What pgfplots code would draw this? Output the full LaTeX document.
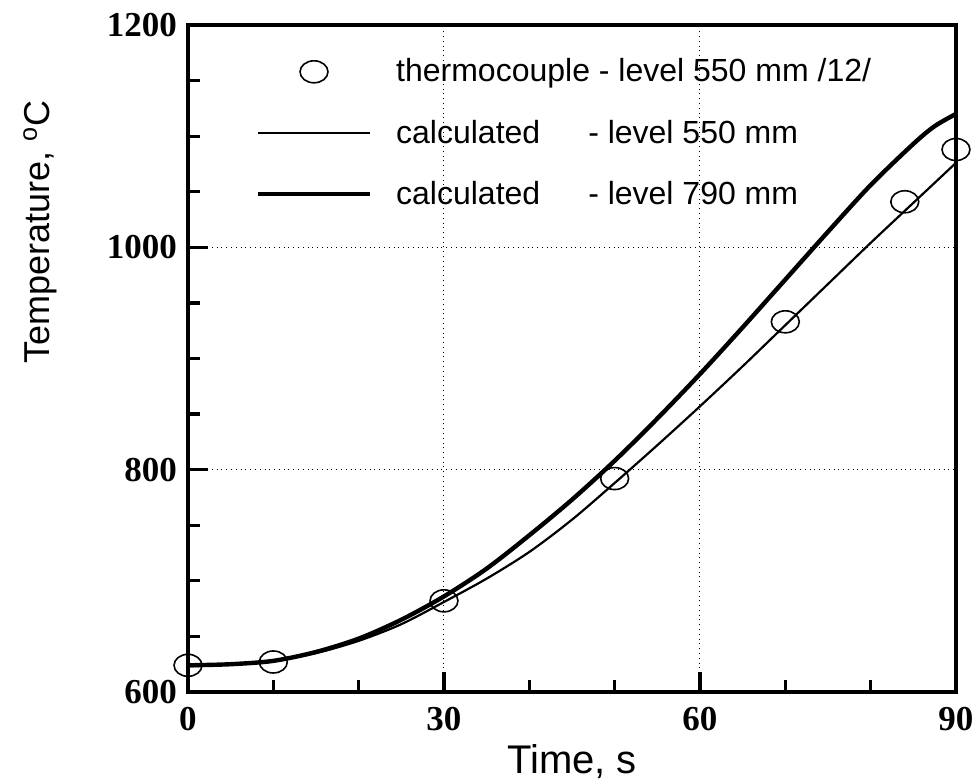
\documentclass[border=0pt]{standalone}
\usepackage{fontspec}
\setmainfont{Liberation Serif}
\newfontfamily\arial{Liberation Sans}
\usepackage{pgfplots}
\pgfplotsset{compat=1.18}
\begin{document}
\begin{tikzpicture}
\begin{axis}[
  name=ax,
  at={(0,0)}, anchor=south west,
  scale only axis,
  width=384bp, height=333.5bp,
  xmin=0, xmax=90, ymin=600, ymax=1200,
  xtick={0,30,60,90}, ytick={600,800,1000,1200},
  minor xtick={10,20,40,50,70,80},
  minor ytick={650,700,750,850,900,950,1050,1100,1150},
  xtick pos=bottom, ytick pos=left,
  tick align=inside,
  major tick length=10bp, minor tick length=6bp,
  tick style={line width=1.6bp, black},
  axis line style={line width=1.6bp},
  grid=major,
  major grid style={dotted, black, line width=0.5bp},
  /pgf/number format/assume math mode=true,
  /pgf/number format/set thousands separator={},
  ticklabel style={font=\fontsize{17.5bp}{20bp}\selectfont\bfseries},
  xticklabel style={yshift=-4bp},
  yticklabel style={xshift=-2bp},
  xlabel={Time, s},
  ylabel={Temperature, \textsuperscript{o}C},
  xlabel style={font=\arial\fontsize{20bp}{24bp}\selectfont, at={(axis description cs:0.5,0)}, anchor=center, yshift=-35bp},
  ylabel style={font=\arial\fontsize{18bp}{22bp}\selectfont, at={(axis description cs:-0.1927,0.69)}, anchor=center},
  legend image code/.code={\draw[mark repeat=2,mark phase=2,#1] plot coordinates {(0bp,0bp) (28bp,0bp) (56bp,0bp)};},
  legend style={draw=none, fill=none, at={(0.08,0.962)}, anchor=north west,
    font=\arial\fontsize{16bp}{19bp}\selectfont, row sep=13.5bp},
  legend cell align=left,
]
\addplot[only marks, mark=o, mark size=5.5bp, mark options={xscale=1.27, line width=0.8bp}] coordinates {
(0,624) (10,627) (30,682) (50,792) (70,933) (84,1041) (90,1088)
};
\addlegendentry{\hspace{10bp}thermocouple - level 550 mm /12/}
\addplot[smooth, line width=1.1bp, black] coordinates {
(0,623) (5,625) (10,628) (15,635) (20,646) (25,661) (30,681) (35,702) (40,726) (45,755) (50,788) (55,822) (60,857) (65,893) (70,930) (75,967) (80,1004) (85,1040) (90,1076)
};
\addlegendentry{\hspace{10bp}calculated\hspace{24bp}- level 550 mm}
\addplot[smooth, line width=2.2bp, black] coordinates {
(0,624) (5,625) (10,628) (15,636) (20,648) (25,665) (30,686) (35,711) (40,741) (45,773) (50,808) (55,846) (60,886) (65,928) (70,971) (75,1014) (80,1056) (85,1093) (87.5,1109) (90,1120)
};
\addlegendentry{\hspace{10bp}calculated\hspace{24bp}- level 790 mm}
\end{axis}
\pgfresetboundingbox
\path[use as bounding box] (-94bp,-45.5bp) rectangle (392bp,346bp);
\end{tikzpicture}
\end{document}
